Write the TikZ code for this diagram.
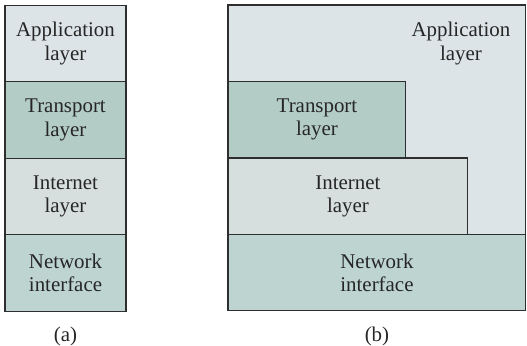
\documentclass[tikz,border=0pt]{standalone}
\usepackage{fontspec}
\setmainfont{Liberation Serif}
\usepackage{tikz}
\usetikzlibrary{positioning}
\definecolor{appcol}{HTML}{DCE4E7}
\definecolor{trncol}{HTML}{B3CCC6}
\definecolor{inetcol}{HTML}{D6DFDE}
\definecolor{netcol}{HTML}{BDD4D1}
\definecolor{edgecol}{HTML}{2E2E2E}

\begin{document}
\begin{tikzpicture}[x=0.02cm, y=-0.02cm,
    font=\rmfamily\fontsize{11.9}{13.2}\selectfont,
    lyr/.style={draw=edgecol, line width=0.6pt, minimum height=1.53cm, align=center, inner sep=2pt, outer sep=0pt, text=black!85}]
    \useasboundingbox (0,0) rectangle (527,345);
    % (a) plain stack
    \node[lyr, fill=appcol, minimum width=2.42cm] (appa) at (65.5,43.5) {Application\\layer};
    \node[lyr, fill=trncol, minimum width=2.42cm, below=0pt of appa] (trna) {Transport\\layer};
    \node[lyr, fill=inetcol, minimum width=2.42cm, below=0pt of trna] (ineta) {Internet\\layer};
    \node[lyr, fill=netcol, minimum width=2.42cm, below=0pt of ineta] (neta) {Network\\interface};
    \node[below=0.2cm of neta, text=black!85] (capa) {(a)};
    % (b) application reaches down past the lower layers
    \node[lyr, fill=appcol, minimum width=5.96cm, minimum height=4.59cm, anchor=north west] (appb) at (228,5) {};
    \node[text=black!85, align=center] (apptxt) at (461,43.5) {Application\\layer};
    \node[lyr, fill=trncol, minimum width=3.56cm, anchor=north west] (trnb) at (228,81.5) {Transport\\layer};
    \node[lyr, fill=inetcol, minimum width=4.8cm, below=0pt of trnb.south west, anchor=north west] (inetb) {Internet\\layer};
    \node[lyr, fill=netcol, minimum width=5.96cm, below=0pt of inetb.south west, anchor=north west] (netb) {Network\\interface};
    \node[below=0.2cm of netb, text=black!85] (capb) {(b)};
\end{tikzpicture}
\end{document}
